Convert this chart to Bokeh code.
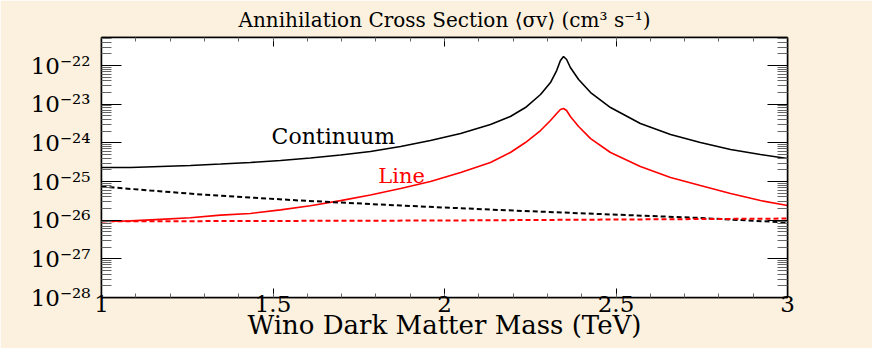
import numpy as np
from bokeh.plotting import figure
from bokeh.models import LinearAxis, LogAxis, FixedTicker, CustomJSTickFormatter, BoxAnnotation, Label
from bokeh.embed import file_html
from bokeh.resources import INLINE

# ---- data ----
mass = [1.000, 1.085, 1.172, 1.259, 1.347, 1.434, 1.522, 1.609, 1.697, 1.784, 1.872,
        1.959, 2.047, 2.134, 2.192, 2.236, 2.280, 2.309, 2.327, 2.338, 2.347, 2.356,
        2.367, 2.391, 2.426, 2.484, 2.571, 2.659, 2.746, 2.834, 2.921, 3.000]
continuum = [2.30e-25, 2.30e-25, 2.44e-25, 2.59e-25, 2.83e-25, 3.10e-25, 3.49e-25,
             4.05e-25, 4.84e-25, 5.97e-25, 8.04e-25, 1.15e-24, 1.74e-24, 2.98e-24,
             4.80e-24, 8.19e-24, 1.78e-23, 3.63e-23, 7.42e-23, 1.35e-22, 1.71e-22,
             1.43e-22, 8.87e-23, 4.35e-23, 2.00e-23, 8.19e-24, 3.16e-24, 1.64e-24,
             1.02e-24, 6.71e-25, 4.99e-25, 3.94e-25]
line = [9.2e-27, 9.6e-27, 1.05e-26, 1.15e-26, 1.35e-26, 1.49e-26, 1.85e-26,
        2.35e-26, 3.2e-26, 4.5e-26, 6.59e-26, 1.00e-25, 1.71e-25, 3.10e-25,
        5.62e-25, 1.02e-24, 2.08e-24, 3.78e-24, 5.73e-24, 7.27e-24, 7.73e-24,
        6.86e-24, 4.80e-24, 2.64e-24, 1.29e-24, 5.62e-25, 2.44e-25, 1.27e-25,
        7.87e-26, 4.89e-26, 3.22e-26, 2.39e-26]

mass_tree = [1.000, 1.143, 1.289, 1.434, 1.580, 1.872, 2.163, 2.455, 2.746, 3.000]
continuum_tree = [7.4e-26, 5.85e-26, 4.61e-26, 3.86e-26, 3.22e-26, 2.39e-26, 1.83e-26,
                  1.44e-26, 1.14e-26, 8.7e-27]
line_tree_mass = [1.0, 2.0, 3.0]
line_tree = [9.3e-27, 9.8e-27, 1.1e-26]

x_ticks = [1, 1.5, 2, 2.5, 3]
x_tick_labels = ["1", "1.5", "2", "2.5", "3"]
y_ticks = [1e-28, 1e-27, 1e-26, 1e-25, 1e-24, 1e-23, 1e-22]
y_tick_labels = ["10⁻²⁸", "10⁻²⁷", "10⁻²⁶", "10⁻²⁵", "10⁻²⁴", "10⁻²³", "10⁻²²"]

title_text = "Annihilation Cross Section ⟨σv⟩ (cm³ s⁻¹)"
x_title = "Wino Dark Matter Mass (TeV)"

FONT = "DejaVu Serif"

p = figure(width=872, height=348, y_axis_type="log",
           x_range=(1, 3), y_range=(1e-28, 5.3e-22),
           output_backend="svg", toolbar_location=None,
           min_border_left=101, min_border_right=85,
           min_border_top=37, min_border_bottom=51)
p.background_fill_color = "white"
p.border_fill_color = "#FBF1DE"
p.outline_line_color = "black"
p.outline_line_width = 1.5
p.grid.visible = False

p.title.text = title_text
p.title.text_font = FONT
p.title.text_font_size = "20px"
p.title.text_font_style = "normal"
p.title.text_color = "black"
p.title.align = "center"
p.title.standoff = 11

# white panel behind the chart (frame-relative screen units)
p.add_layout(BoxAnnotation(left=-84, right=752, bottom=-51, top=291,
                           left_units="screen", right_units="screen",
                           bottom_units="screen", top_units="screen",
                           fill_color="white", fill_alpha=1.0, line_color=None,
                           level="underlay"))

x_minor = [round(v, 2) for v in np.arange(1.0, 3.0001, 0.1)]
y_minor = [m * d for d in y_ticks for m in range(2, 10)]

xt = FixedTicker(ticks=x_ticks, minor_ticks=x_minor)
yt = FixedTicker(ticks=y_ticks, minor_ticks=y_minor)

def style(ax, tin, min_in):
    ax.axis_line_color = "black"
    ax.axis_line_width = 1.5
    ax.major_tick_in = tin
    ax.major_tick_out = 0
    ax.minor_tick_in = min_in
    ax.minor_tick_out = 0
    ax.major_tick_line_color = "black"
    ax.minor_tick_line_color = "#666666"
    ax.major_tick_line_width = 1
    ax.minor_tick_line_width = 1
    ax.major_label_text_font = FONT
    ax.major_label_text_color = "black"

xa = p.xaxis[0]
xa.ticker = xt
xa.major_label_overrides = {v: s for v, s in zip(x_ticks, x_tick_labels)}
style(xa, 9, 4)
xa.major_label_text_font_size = "23px"
xa.major_label_standoff = -2
xa.axis_label = x_title
xa.axis_label_text_font = FONT
xa.axis_label_text_font_size = "26px"
xa.axis_label_text_font_style = "normal"
xa.axis_label_text_color = "black"
xa.axis_label_standoff = -5

ya = p.yaxis[0]
ya.ticker = yt
ya.major_label_overrides = {v: s for v, s in zip(y_ticks, y_tick_labels)}
style(ya, 20, 10)
ya.major_label_text_font_size = "23px"
ya.major_label_standoff = 11

blank = CustomJSTickFormatter(code="return ''")
top = LinearAxis(ticker=xt, formatter=blank)
style(top, 9, 4)
top.major_label_standoff = 0
top.major_label_text_font_size = "1px"
p.add_layout(top, "above")
right = LogAxis(ticker=yt, formatter=blank)
style(right, 20, 10)
right.major_label_standoff = 0
right.major_label_text_font_size = "1px"
p.add_layout(right, "right")

p.line(mass, continuum, line_color="black", line_width=1.6)
p.line(mass, line, line_color="#ff0000", line_width=1.6)
p.line(mass_tree, continuum_tree, line_color="black", line_width=2, line_dash="5 3")
p.line(line_tree_mass, line_tree, line_color="#ff0000", line_width=2, line_dash="5 3")

p.add_layout(Label(x=1.676, y=1.5e-24, text="Continuum", text_font=FONT,
                   text_font_size="22px", text_color="black",
                   text_align="center", text_baseline="middle"))
p.add_layout(Label(x=1.875, y=1.4e-25, text="Line", text_font=FONT,
                   text_font_size="21px", text_color="#ff0000",
                   text_align="center", text_baseline="middle"))

open("out.html", "w").write(file_html(p, INLINE))
